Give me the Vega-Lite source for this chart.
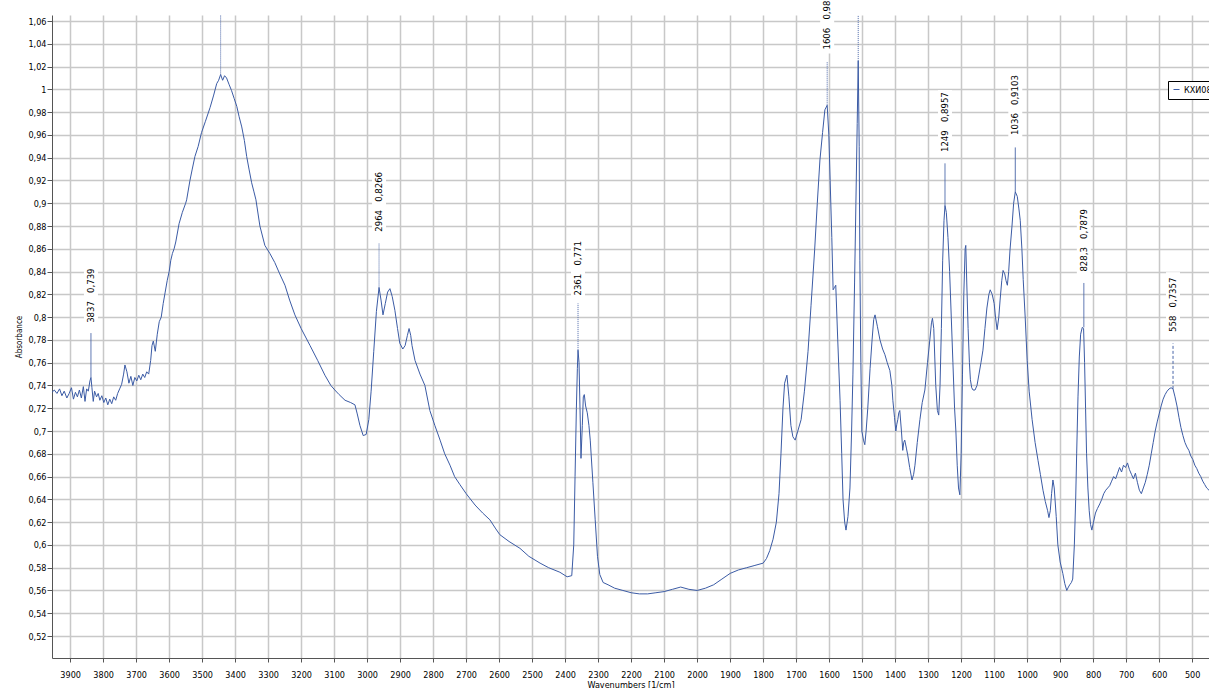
{
  "$schema": "https://vega.github.io/schema/vega-lite/v6.json",
  "width": 1157,
  "height": 643,
  "autosize": "none",
  "padding": {"left": 52, "top": 15, "right": 0, "bottom": 30},
  "background": "white",
  "config": {
    "view": {"stroke": null},
    "font": "DejaVu Sans Condensed, Liberation Sans Narrow, sans-serif",
    "axis": {
      "grid": true,
      "gridColor": "#c8c8c8",
      "gridWidth": 1.5,
      "domainColor": "#555555",
      "tickColor": "#555555",
      "labelColor": "#000000",
      "labelFontSize": 9,
      "labelOverlap": false,
      "titleFontSize": 9,
      "titleFontWeight": "normal",
      "titleColor": "#000000"
    },
    "legend": {
      "strokeColor": "#000000",
      "fillColor": "#ffffff",
      "padding": 4,
      "labelFontSize": 9,
      "labelColor": "#000000",
      "symbolType": "stroke",
      "symbolSize": 36,
      "symbolStrokeWidth": 1,
      "labelOffset": 3
    }
  },
  "datasets": {
    "spectrum": [
      {"w":3955,"a":0.734},{"w":3948,"a":0.736},{"w":3940,"a":0.733},{"w":3932,"a":0.737},{"w":3925,"a":0.731},{"w":3918,"a":0.735},{"w":3910,"a":0.729},{"w":3903,"a":0.733},{"w":3896,"a":0.738},{"w":3890,"a":0.728},{"w":3884,"a":0.734},{"w":3878,"a":0.730},{"w":3872,"a":0.736},{"w":3866,"a":0.729},{"w":3860,"a":0.739},{"w":3855,"a":0.726},{"w":3850,"a":0.737},{"w":3845,"a":0.735},{"w":3840,"a":0.744},{"w":3837,"a":0.747},{"w":3834,"a":0.738},{"w":3830,"a":0.726},{"w":3826,"a":0.735},{"w":3820,"a":0.730},{"w":3815,"a":0.733},{"w":3810,"a":0.727},{"w":3804,"a":0.731},{"w":3798,"a":0.725},{"w":3792,"a":0.729},{"w":3786,"a":0.723},{"w":3780,"a":0.728},{"w":3774,"a":0.724},{"w":3768,"a":0.730},{"w":3762,"a":0.727},{"w":3756,"a":0.733},{"w":3750,"a":0.737},{"w":3744,"a":0.741},{"w":3738,"a":0.750},{"w":3734,"a":0.758},{"w":3728,"a":0.752},{"w":3722,"a":0.742},{"w":3716,"a":0.748},{"w":3710,"a":0.740},{"w":3704,"a":0.747},{"w":3698,"a":0.744},{"w":3692,"a":0.749},{"w":3686,"a":0.745},{"w":3680,"a":0.750},{"w":3674,"a":0.747},{"w":3668,"a":0.752},{"w":3662,"a":0.750},{"w":3656,"a":0.762},{"w":3652,"a":0.775},{"w":3648,"a":0.779},{"w":3642,"a":0.770},{"w":3636,"a":0.785},{"w":3630,"a":0.796},{"w":3624,"a":0.800},{"w":3618,"a":0.812},{"w":3612,"a":0.822},{"w":3606,"a":0.832},{"w":3600,"a":0.840},{"w":3595,"a":0.850},{"w":3590,"a":0.856},{"w":3585,"a":0.860},{"w":3580,"a":0.866},{"w":3570,"a":0.882},{"w":3560,"a":0.892},{"w":3550,"a":0.900},{"w":3547,"a":0.903},{"w":3537,"a":0.920},{"w":3530,"a":0.930},{"w":3522,"a":0.941},{"w":3512,"a":0.950},{"w":3502,"a":0.962},{"w":3490,"a":0.972},{"w":3476,"a":0.984},{"w":3465,"a":0.995},{"w":3456,"a":1.005},{"w":3450,"a":1.008},{"w":3444,"a":1.013},{"w":3438,"a":1.008},{"w":3432,"a":1.012},{"w":3426,"a":1.010},{"w":3418,"a":1.004},{"w":3411,"a":0.999},{"w":3403,"a":0.992},{"w":3395,"a":0.985},{"w":3388,"a":0.976},{"w":3380,"a":0.967},{"w":3372,"a":0.955},{"w":3365,"a":0.941},{"w":3358,"a":0.930},{"w":3350,"a":0.918},{"w":3343,"a":0.910},{"w":3337,"a":0.903},{"w":3325,"a":0.880},{"w":3310,"a":0.863},{"w":3295,"a":0.856},{"w":3280,"a":0.848},{"w":3265,"a":0.838},{"w":3249,"a":0.828},{"w":3235,"a":0.815},{"w":3219,"a":0.802},{"w":3200,"a":0.790},{"w":3173,"a":0.775},{"w":3150,"a":0.762},{"w":3128,"a":0.749},{"w":3110,"a":0.740},{"w":3098,"a":0.736},{"w":3085,"a":0.732},{"w":3067,"a":0.727},{"w":3050,"a":0.725},{"w":3037,"a":0.723},{"w":3030,"a":0.715},{"w":3022,"a":0.705},{"w":3012,"a":0.696},{"w":3003,"a":0.697},{"w":2995,"a":0.710},{"w":2988,"a":0.735},{"w":2980,"a":0.770},{"w":2972,"a":0.805},{"w":2964,"a":0.826},{"w":2958,"a":0.815},{"w":2952,"a":0.802},{"w":2945,"a":0.812},{"w":2938,"a":0.822},{"w":2931,"a":0.825},{"w":2924,"a":0.818},{"w":2916,"a":0.806},{"w":2908,"a":0.790},{"w":2901,"a":0.777},{"w":2892,"a":0.772},{"w":2885,"a":0.775},{"w":2878,"a":0.784},{"w":2873,"a":0.790},{"w":2868,"a":0.784},{"w":2864,"a":0.775},{"w":2855,"a":0.762},{"w":2840,"a":0.750},{"w":2825,"a":0.740},{"w":2810,"a":0.718},{"w":2795,"a":0.705},{"w":2779,"a":0.692},{"w":2765,"a":0.680},{"w":2749,"a":0.670},{"w":2735,"a":0.660},{"w":2719,"a":0.653},{"w":2700,"a":0.645},{"w":2673,"a":0.635},{"w":2650,"a":0.628},{"w":2628,"a":0.622},{"w":2610,"a":0.614},{"w":2598,"a":0.609},{"w":2570,"a":0.603},{"w":2537,"a":0.597},{"w":2510,"a":0.590},{"w":2476,"a":0.584},{"w":2450,"a":0.580},{"w":2416,"a":0.576},{"w":2394,"a":0.572},{"w":2380,"a":0.573},{"w":2374,"a":0.600},{"w":2370,"a":0.660},{"w":2366,"a":0.720},{"w":2363,"a":0.755},{"w":2361,"a":0.771},{"w":2358,"a":0.760},{"w":2355,"a":0.720},{"w":2352,"a":0.676},{"w":2348,"a":0.705},{"w":2345,"a":0.730},{"w":2342,"a":0.732},{"w":2338,"a":0.722},{"w":2333,"a":0.716},{"w":2328,"a":0.705},{"w":2324,"a":0.692},{"w":2316,"a":0.655},{"w":2309,"a":0.622},{"w":2302,"a":0.590},{"w":2295,"a":0.574},{"w":2285,"a":0.567},{"w":2270,"a":0.565},{"w":2250,"a":0.562},{"w":2225,"a":0.560},{"w":2200,"a":0.558},{"w":2175,"a":0.557},{"w":2150,"a":0.557},{"w":2125,"a":0.558},{"w":2100,"a":0.559},{"w":2075,"a":0.561},{"w":2050,"a":0.563},{"w":2025,"a":0.561},{"w":2000,"a":0.560},{"w":1975,"a":0.562},{"w":1950,"a":0.565},{"w":1925,"a":0.570},{"w":1900,"a":0.575},{"w":1875,"a":0.578},{"w":1850,"a":0.580},{"w":1825,"a":0.582},{"w":1800,"a":0.584},{"w":1790,"a":0.588},{"w":1780,"a":0.595},{"w":1770,"a":0.605},{"w":1760,"a":0.620},{"w":1752,"a":0.645},{"w":1746,"a":0.680},{"w":1740,"a":0.720},{"w":1735,"a":0.742},{"w":1728,"a":0.749},{"w":1722,"a":0.730},{"w":1716,"a":0.705},{"w":1710,"a":0.695},{"w":1703,"a":0.692},{"w":1695,"a":0.700},{"w":1685,"a":0.710},{"w":1675,"a":0.735},{"w":1664,"a":0.770},{"w":1655,"a":0.810},{"w":1644,"a":0.859},{"w":1636,"a":0.900},{"w":1628,"a":0.938},{"w":1620,"a":0.962},{"w":1613,"a":0.982},{"w":1606,"a":0.986},{"w":1601,"a":0.960},{"w":1597,"a":0.920},{"w":1592,"a":0.870},{"w":1588,"a":0.824},{"w":1584,"a":0.826},{"w":1580,"a":0.828},{"w":1574,"a":0.780},{"w":1567,"a":0.727},{"w":1562,"a":0.680},{"w":1558,"a":0.640},{"w":1553,"a":0.620},{"w":1549,"a":0.613},{"w":1543,"a":0.625},{"w":1537,"a":0.650},{"w":1532,"a":0.700},{"w":1528,"a":0.750},{"w":1523,"a":0.830},{"w":1519,"a":0.900},{"w":1515,"a":0.970},{"w":1512,"a":1.025},{"w":1509,"a":0.950},{"w":1507,"a":0.850},{"w":1504,"a":0.760},{"w":1501,"a":0.700},{"w":1496,"a":0.692},{"w":1492,"a":0.688},{"w":1488,"a":0.700},{"w":1483,"a":0.720},{"w":1476,"a":0.755},{"w":1470,"a":0.780},{"w":1465,"a":0.798},{"w":1461,"a":0.802},{"w":1454,"a":0.792},{"w":1446,"a":0.780},{"w":1438,"a":0.772},{"w":1431,"a":0.767},{"w":1424,"a":0.760},{"w":1416,"a":0.753},{"w":1410,"a":0.740},{"w":1407,"a":0.727},{"w":1402,"a":0.712},{"w":1398,"a":0.700},{"w":1395,"a":0.706},{"w":1392,"a":0.710},{"w":1389,"a":0.716},{"w":1386,"a":0.718},{"w":1381,"a":0.700},{"w":1377,"a":0.683},{"w":1374,"a":0.690},{"w":1371,"a":0.692},{"w":1366,"a":0.685},{"w":1362,"a":0.679},{"w":1356,"a":0.668},{"w":1349,"a":0.657},{"w":1344,"a":0.662},{"w":1340,"a":0.670},{"w":1333,"a":0.690},{"w":1325,"a":0.710},{"w":1318,"a":0.725},{"w":1310,"a":0.736},{"w":1302,"a":0.760},{"w":1295,"a":0.780},{"w":1290,"a":0.795},{"w":1287,"a":0.799},{"w":1283,"a":0.790},{"w":1280,"a":0.765},{"w":1277,"a":0.740},{"w":1272,"a":0.718},{"w":1268,"a":0.714},{"w":1264,"a":0.740},{"w":1260,"a":0.790},{"w":1256,"a":0.850},{"w":1252,"a":0.885},{"w":1249,"a":0.898},{"w":1245,"a":0.892},{"w":1240,"a":0.870},{"w":1235,"a":0.840},{"w":1230,"a":0.800},{"w":1225,"a":0.760},{"w":1220,"a":0.720},{"w":1216,"a":0.700},{"w":1212,"a":0.670},{"w":1208,"a":0.650},{"w":1204,"a":0.644},{"w":1200,"a":0.680},{"w":1196,"a":0.750},{"w":1192,"a":0.820},{"w":1188,"a":0.860},{"w":1186,"a":0.863},{"w":1183,"a":0.830},{"w":1179,"a":0.790},{"w":1175,"a":0.760},{"w":1172,"a":0.745},{"w":1168,"a":0.738},{"w":1164,"a":0.736},{"w":1158,"a":0.736},{"w":1152,"a":0.740},{"w":1146,"a":0.750},{"w":1140,"a":0.760},{"w":1134,"a":0.771},{"w":1128,"a":0.790},{"w":1122,"a":0.808},{"w":1116,"a":0.820},{"w":1112,"a":0.824},{"w":1106,"a":0.820},{"w":1100,"a":0.812},{"w":1096,"a":0.800},{"w":1091,"a":0.789},{"w":1086,"a":0.800},{"w":1082,"a":0.815},{"w":1077,"a":0.832},{"w":1073,"a":0.841},{"w":1068,"a":0.838},{"w":1064,"a":0.832},{"w":1060,"a":0.828},{"w":1056,"a":0.840},{"w":1052,"a":0.859},{"w":1046,"a":0.880},{"w":1041,"a":0.900},{"w":1036,"a":0.910},{"w":1030,"a":0.906},{"w":1025,"a":0.895},{"w":1021,"a":0.885},{"w":1016,"a":0.860},{"w":1012,"a":0.833},{"w":1006,"a":0.800},{"w":1000,"a":0.762},{"w":994,"a":0.735},{"w":985,"a":0.710},{"w":976,"a":0.690},{"w":967,"a":0.674},{"w":960,"a":0.662},{"w":952,"a":0.648},{"w":945,"a":0.638},{"w":938,"a":0.630},{"w":934,"a":0.624},{"w":930,"a":0.630},{"w":926,"a":0.645},{"w":922,"a":0.657},{"w":918,"a":0.650},{"w":912,"a":0.625},{"w":907,"a":0.600},{"w":900,"a":0.585},{"w":892,"a":0.575},{"w":886,"a":0.566},{"w":880,"a":0.560},{"w":875,"a":0.563},{"w":871,"a":0.565},{"w":866,"a":0.567},{"w":862,"a":0.570},{"w":857,"a":0.600},{"w":853,"a":0.640},{"w":850,"a":0.680},{"w":846,"a":0.730},{"w":842,"a":0.765},{"w":838,"a":0.785},{"w":833,"a":0.791},{"w":829,"a":0.790},{"w":826,"a":0.760},{"w":823,"a":0.720},{"w":820,"a":0.680},{"w":816,"a":0.650},{"w":812,"a":0.630},{"w":808,"a":0.618},{"w":804,"a":0.613},{"w":799,"a":0.620},{"w":793,"a":0.628},{"w":787,"a":0.632},{"w":780,"a":0.636},{"w":774,"a":0.640},{"w":768,"a":0.645},{"w":762,"a":0.648},{"w":756,"a":0.650},{"w":750,"a":0.652},{"w":744,"a":0.656},{"w":738,"a":0.660},{"w":732,"a":0.658},{"w":726,"a":0.663},{"w":720,"a":0.668},{"w":714,"a":0.664},{"w":708,"a":0.670},{"w":702,"a":0.668},{"w":696,"a":0.672},{"w":690,"a":0.666},{"w":684,"a":0.662},{"w":678,"a":0.658},{"w":672,"a":0.663},{"w":666,"a":0.655},{"w":660,"a":0.648},{"w":654,"a":0.645},{"w":648,"a":0.650},{"w":642,"a":0.655},{"w":636,"a":0.662},{"w":630,"a":0.670},{"w":624,"a":0.680},{"w":618,"a":0.690},{"w":612,"a":0.700},{"w":606,"a":0.708},{"w":600,"a":0.715},{"w":594,"a":0.722},{"w":588,"a":0.728},{"w":582,"a":0.732},{"w":576,"a":0.735},{"w":570,"a":0.737},{"w":564,"a":0.738},{"w":558,"a":0.737},{"w":552,"a":0.730},{"w":546,"a":0.722},{"w":540,"a":0.712},{"w":534,"a":0.703},{"w":528,"a":0.696},{"w":522,"a":0.690},{"w":516,"a":0.686},{"w":510,"a":0.683},{"w":504,"a":0.678},{"w":498,"a":0.675},{"w":492,"a":0.670},{"w":486,"a":0.667},{"w":480,"a":0.663},{"w":474,"a":0.660},{"w":468,"a":0.656},{"w":462,"a":0.653},{"w":456,"a":0.650},{"w":449,"a":0.648}
    ],
    "peaks": [
      {"w":3837,"a":0.747,"top":0.786,"style":"solid"},
      {"w":3444,"a":1.013,"top":1.066,"style":"dotted"},
      {"w":2964,"a":0.826,"top":0.865,"style":"dotted"},
      {"w":2361,"a":0.771,"top":0.812,"style":"dotted"},
      {"w":1606,"a":0.986,"top":1.024,"style":"dotted"},
      {"w":1512,"a":1.025,"top":1.066,"style":"dotted"},
      {"w":1249,"a":0.898,"top":0.935,"style":"solid"},
      {"w":1036,"a":0.910,"top":0.949,"style":"solid"},
      {"w":828.3,"a":0.791,"top":0.830,"style":"solid"},
      {"w":558,"a":0.737,"top":0.777,"style":"dashed"}
    ],
    "labels": [
      {"w":3837,"ly":0.795,"hi":0.846,"label":"3837  0,739"},
      {"w":2964,"ly":0.875,"hi":0.928,"label":"2964  0,8266"},
      {"w":2361,"ly":0.819,"hi":0.866,"label":"2361  0,771"},
      {"w":1606,"ly":1.035,"hi":1.1,"label":"1606  0,986"},
      {"w":1249,"ly":0.945,"hi":0.996,"label":"1249  0,8957"},
      {"w":1036,"ly":0.960,"hi":1.010,"label":"1036  0,9103"},
      {"w":828.3,"ly":0.840,"hi":0.894,"label":"828,3  0,7879"},
      {"w":558,"ly":0.787,"hi":0.836,"label":"558  0,7357"}
    ]
  },
  "layer": [
    {
      "data": {"name": "labels"},
      "mark": {"type": "rect", "width": 14, "fill": "#ffffff", "yOffset": 4, "y2Offset": -4},
      "encoding": {
        "x": {"field": "w", "type": "quantitative", "scale": {"domain": [449, 3955], "reverse": true, "nice": false, "zero": false},
          "axis": {"values": [500,600,700,800,900,1000,1100,1200,1300,1400,1500,1600,1700,1800,1900,2000,2100,2200,2300,2400,2500,2600,2700,2800,2900,3000,3100,3200,3300,3400,3500,3600,3700,3800,3900],
            "tickCount": 200, "format": "d", "title": "Wavenumbers [1/cm]", "tickSize": 4, "labelPadding": 8, "titlePadding": 1, "labelFlush": false, "labelOverlap": false, "labelBound": false}},
        "y": {"field": "ly", "type": "quantitative", "scale": {"domain": [0.5007, 1.0653], "nice": false, "zero": false},
          "axis": {"values": [0.52,0.54,0.56,0.58,0.6,0.62,0.64,0.66,0.68,0.7,0.72,0.74,0.76,0.78,0.8,0.82,0.84,0.86,0.88,0.9,0.92,0.94,0.96,0.98,1,1.02,1.04,1.06],
            "tickCount": 200, "labelExpr": "replace(format(datum.value, '.2~f'), '.', ',')", "title": "Absorbance", "tickSize": 5, "labelPadding": 1, "titlePadding": 4, "titleFontSize": 8, "labelFlush": false, "labelOverlap": false, "labelBound": false}},
        "y2": {"field": "hi"}
      }
    },
    {
      "data": {"name": "spectrum"},
      "mark": {"type": "line", "strokeWidth": 1, "clip": true},
      "encoding": {
        "x": {"field": "w", "type": "quantitative"},
        "y": {"field": "a", "type": "quantitative"},
        "order": {"field": "w", "type": "quantitative"},
        "color": {"datum": "КХИ08", "scale": {"range": ["#3b5ba5"]}, "legend": {"orient": "none", "legendX": 1116, "legendY": 66, "title": null}}
      }
    },
    {
      "data": {"name": "peaks"},
      "mark": {"type": "rule", "strokeWidth": 1, "color": "#4a66a8", "clip": true},
      "encoding": {
        "x": {"field": "w", "type": "quantitative"},
        "y": {"field": "a", "type": "quantitative"},
        "y2": {"field": "top"},
        "strokeDash": {"field": "style", "type": "nominal", "scale": {"domain": ["solid", "dotted", "dashed"], "range": [[1, 0], [1, 1], [3, 2]]}, "legend": null}
      }
    },
    {
      "data": {"name": "labels"},
      "transform": [{"calculate": "replace(datum.label, '  ', '\u00a0\u00a0\u00a0')", "as": "txt"}],
      "mark": {"type": "text", "angle": 270, "align": "left", "baseline": "middle", "fontSize": 9.5, "color": "#000000"},
      "encoding": {
        "x": {"field": "w", "type": "quantitative"},
        "y": {"field": "ly", "type": "quantitative"},
        "text": {"field": "txt"}
      }
    }
  ]
}
